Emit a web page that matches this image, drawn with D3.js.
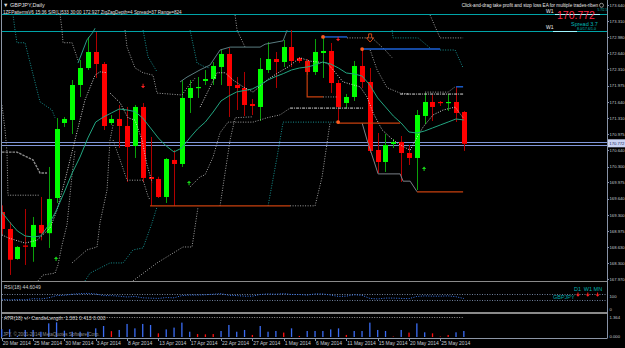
<!DOCTYPE html>
<html>
<head>
<meta charset="utf-8">
<script src="https://cdn.jsdelivr.net/npm/d3@7/dist/d3.min.js"></script>
<style>
  body { margin: 0; background: #000; }
  svg { display: block; font-family: "Liberation Sans", Arial, sans-serif; }
  .axis path, .axis line { stroke: #8792a6; shape-rendering: crispEdges; }
  .axis text { fill: #c4c8d0; font-size: 5px; }
  .yaxis text { font-size: 4.2px; }
</style>
</head>
<body>
<div id="chart"></div>
<script>
// ---- data ----
var tickBars = [0, 4, 8, 12, 16, 20, 24, 28, 32, 36, 40, 44, 48, 52, 56];
var tickLabels = ["20 Mar 2014", "25 Mar 2014", "30 Mar 2014", "3 Apr 2014", "8 Apr 2014",
  "13 Apr 2014", "17 Apr 2014", "22 Apr 2014", "27 Apr 2014", "1 May 2014", "6 May 2014",
  "11 May 2014", "15 May 2014", "20 May 2014", "25 May 2014"];
var priceTicks = [173.640, 173.310, 172.980, 172.640, 172.310, 171.975, 171.640, 171.310, 170.975,
  170.640, 170.300, 169.975, 169.640, 169.300, 168.975, 168.630, 168.300, 167.970];

var opens = [169.363, 169.012, 168.392, 168.670, 168.640, 169.095, 168.925, 169.652, 171.202, 171.264,
  171.987, 172.338, 172.669, 172.421, 171.202, 171.285, 171.140, 170.727, 171.533, 170.086,
  170.045, 169.673, 170.438, 170.355, 171.719, 171.925, 172.070, 172.111, 172.359, 172.628,
  171.987, 171.925, 171.595, 171.533, 172.297, 172.524, 172.462, 172.772, 172.545, 172.483,
  172.256, 172.648, 172.690, 172.028, 171.615, 171.739, 172.380, 172.049, 170.644, 170.396,
  170.768, 170.810, 170.582, 170.479, 171.347, 171.636, 171.636, 171.615, 171.636, 171.429];
var highs = [169.500, 169.156, 168.660, 169.425, 169.260, 169.673, 170.293, 171.305, 171.326, 172.090,
  172.504, 172.979, 173.082, 172.462, 171.367, 171.574, 171.533, 171.574, 171.615, 170.913,
  170.090, 170.479, 170.644, 172.090, 172.090, 172.152, 172.297, 172.462, 172.731, 172.752,
  172.152, 172.256, 171.698, 172.545, 172.876, 172.669, 172.917, 173.123, 172.566, 172.524,
  172.937, 172.979, 172.855, 172.090, 171.801, 172.483, 172.710, 172.338, 170.995, 170.975,
  170.871, 170.933, 170.747, 171.471, 171.822, 171.781, 171.657, 171.801, 171.946, 171.450];
var lows = [168.900, 168.062, 168.376, 168.268, 168.334, 168.777, 168.620, 169.549, 171.120, 170.975,
  171.739, 172.297, 172.132, 171.057, 171.160, 170.685, 169.983, 170.479, 169.983, 169.487,
  169.652, 169.549, 169.487, 170.293, 171.409, 171.719, 171.987, 171.987, 171.987, 171.326,
  171.471, 171.347, 171.367, 171.243, 172.235, 171.925, 172.359, 172.359, 172.442, 172.194,
  172.194, 172.132, 171.822, 171.223, 171.512, 171.657, 171.925, 170.582, 170.169, 170.190,
  170.685, 169.983, 170.334, 169.818, 171.181, 171.243, 171.553, 171.450, 171.223, 170.624];
var closes = [169.012, 168.376, 168.640, 168.650, 169.095, 168.925, 169.632, 171.078, 171.285, 171.987,
  172.338, 172.669, 172.421, 171.140, 171.285, 171.140, 170.706, 171.533, 170.066, 170.045,
  169.673, 170.458, 170.355, 171.719, 171.925, 171.946, 172.111, 172.380, 172.628, 171.966,
  171.925, 171.574, 171.553, 172.318, 172.524, 172.462, 172.772, 172.483, 172.483, 172.256,
  172.669, 172.690, 172.028, 171.533, 171.739, 172.380, 172.049, 170.624, 170.396, 170.747,
  170.810, 170.582, 170.479, 171.367, 171.636, 171.533, 171.615, 171.636, 171.409, 170.772];

var maValues = [169.363, 169.157, 168.971, 168.867, 168.847, 168.867, 169.095, 169.404, 169.776, 170.169,
  170.499, 170.892, 171.222, 171.326, 171.409, 171.491, 171.471, 171.440, 171.305, 171.099,
  170.892, 170.727, 170.603, 170.686, 170.892, 171.078, 171.222, 171.429, 171.657, 171.760,
  171.843, 171.874, 171.905, 171.987, 172.091, 172.163, 172.225, 172.297, 172.338, 172.359,
  172.400, 172.462, 172.421, 172.338, 172.235, 172.214, 172.173, 171.987, 171.719, 171.533,
  171.347, 171.202, 171.016, 170.995, 171.037, 171.099, 171.161, 171.222, 171.285, 171.264];

var rsiValues = [42, 40, 41, 40, 44, 43, 47, 55, 56, 60, 62, 63, 61, 55, 55, 53, 50, 52, 47, 46,
  45, 48, 47, 55, 57, 57, 58, 60, 62, 56, 55, 53, 53, 59, 61, 60, 62, 59, 59, 57,
  61, 61, 57, 52, 53, 58, 56, 45, 43, 46, 46, 45, 44, 52, 54, 53, 53, 54, 51, 44.6];
var rsiLevels = [60, 40];

var atrValues = [0.53, 0.53, 0.08, 0.48, 0.48, 0.36, 0.93, 1.00, 0.43, 0.36,
  0.36, 0.36, 0.59, 0.75, 0.40, 0.48, 0.89, 0.59, 0.89, 0.82,
  0.25, 0.52, 0.64, 0.98, 0.36, 0.20, 0.18, 0.20, 0.41, 0.82,
  0.36, 0.48, 0.14, 0.75, 0.36, 0.41, 0.30, 0.59, 0.07, 0.41,
  0.41, 0.41, 0.52, 0.59, 0.14, 0.41, 0.41, 0.98, 0.48, 0.41,
  0.03, 0.48, 0.30, 0.93, 0.32, 0.25, 0.03, 0.14, 0.32, 0.41];
var atrRedBars = [14, 20, 25, 26, 27, 32, 36, 38, 44, 50, 52, 55, 56, 57];
var atrLevel = 1.381;

var bidPrice = 170.772;
var weeklyLevels = [173.444, 173.113];

// indicator polylines: [bar, price]
var tealDotA = [[1.44,173.45],[1.70,173.12],[1.95,172.86],[2.98,172.86],[4.89,171.64],[6.42,171.47],[6.81,171.31]];
var grayDotA = [[7.45,173.45],[7.70,173.12],[7.83,172.86],[8.98,172.86],[9.74,172.50]];
var bandUpA = [[9.74,172.44],[10.89,172.92],[11.66,173.08],[11.92,173.16]];
var grayDotB = [[15.75,173.12],[16.00,172.77],[17.02,172.34],[18.05,172.24],[19.32,172.19],[19.83,171.82],[23.03,171.78],[23.66,171.93],[24.69,172.13]];
var tealDotB = [[18.05,173.12],[18.68,172.57],[19.83,172.26]];
var tealDotC = [[24.05,173.12],[24.94,172.44],[25.96,172.36],[26.60,172.34]];
var bandUpB = [[22.77,172.05],[23.66,172.15],[25.33,172.30],[26.60,172.40],[27.88,172.71],[29.16,172.77],[32.99,172.77],[33.63,172.83],[35.93,172.90],[36.44,173.12]];
var grayDotC = [[29.80,173.43],[30.05,173.12],[31.07,172.77]];
var whiteDotA = [[0.04,168.89],[0.80,168.83],[2.98,168.72],[4.51,168.78],[6.17,169.03],[7.06,169.40],[8.08,170.02],[9.36,170.85],[10.64,171.68],[11.92,172.19],[12.55,172.26],[13.45,172.24]];
var whiteDotB = [[13.83,171.82],[15.11,171.62],[16.13,171.31],[17.02,171.26],[17.92,170.85],[18.56,170.33],[19.20,169.98]];
var grayDotD = [[14.22,170.85],[15.11,170.44],[16.00,170.02],[18.05,170.02],[18.68,169.69],[18.94,169.61]];
var grayDotE = [[0.04,171.57],[0.42,171.06],[0.68,170.60],[0.80,169.71],[1.44,169.71],[4.89,169.71]];
var grayDashA = [[0.04,170.60],[1.95,170.60],[3.99,170.44],[4.89,170.17],[5.79,170.17]];
var grayDotF = [[4.64,167.94],[5.27,168.06],[6.81,168.10],[7.19,168.27],[7.70,168.68],[8.34,169.10],[8.98,170.13],[9.36,170.64]];
var grayDotG = [[8.98,168.31],[10.89,168.58],[12.17,168.64],[12.55,169.14],[13.45,169.82],[13.83,170.85],[14.22,171.16]];
var tealDotD = [[10.64,167.94],[11.28,168.10],[13.83,168.31],[15.49,168.31],[16.77,168.58],[18.05,168.62],[19.20,169.14],[19.83,169.47]];
var grayDotH = [[16.77,167.94],[19.83,168.31],[23.15,168.64],[24.30,168.64],[25.07,169.47]];
var grayDotI = [[24.05,169.88],[25.33,170.09],[25.96,170.13],[26.99,170.50],[27.88,171.00],[28.90,171.22],[32.09,171.22],[33.88,171.31],[35.54,171.37],[36.82,171.51]];
var grayDotJ = [[27.88,169.49],[28.52,170.17],[29.16,170.85],[29.80,171.31],[32.09,171.33]];
var tealDotE = [[34.01,169.49],[35.16,170.50],[35.93,171.22],[42.95,171.22]];
var grayDotK = [[36.82,169.49],[40.01,169.49],[40.91,170.09],[41.93,171.22]];
var trailDot = [[25.33,171.53],[26.22,171.82],[27.50,172.24],[28.52,172.24],[29.54,172.09],[30.82,171.95],[32.09,171.84],[33.88,172.09],[35.29,172.24],[36.56,172.36],[38.09,172.55],[39.37,172.48],[41.54,172.44],[42.31,172.30],[43.59,172.05],[44.87,171.99],[45.76,171.95],[46.65,171.74],[47.42,171.41],[48.57,171.06],[49.97,170.85],[50.87,170.75],[52.15,170.64],[53.04,170.91],[53.81,171.12],[55.08,171.37],[56.36,171.47],[57.89,171.53],[58.91,171.31]];
var grayDotL = [[44.10,172.96],[47.29,172.96],[48.95,172.71],[49.85,172.55]];
var grayDotM = [[47.04,172.71],[47.93,172.30],[49.21,171.93],[50.87,171.82],[52.15,171.80]];
var grayDotN = [[54.06,171.84],[57.00,171.84],[57.89,171.95]];
var grayDotO = [[54.70,173.43],[55.34,173.19],[55.98,172.96],[58.91,172.96]];
var grayDotP = [[41.03,171.74],[42.95,171.74]];
var tealDotF = [[49.85,173.12],[49.97,172.96],[53.17,172.96],[54.70,172.75]];
var tealDotG = [[55.98,172.71],[57.89,172.71],[58.91,172.34]];
var dashDotA = [[36.82,171.51],[46.14,171.51]];
var dashDotB = [[50.87,171.80],[58.91,171.80]];
var blueSegA = [[41.03,172.98],[44.10,172.98]];
var blueSegB = [[46.02,172.73],[55.98,172.73]];
var blueSegC = [[58.02,171.95],[58.91,171.95]];
var zigA = [[18.94,169.49],[36.82,169.49]];
var zigB = [[39.0,172.48],[39.0,171.74],[41.03,171.74]];
var zigC = [[42.95,171.20],[50.87,171.20]];
var zigD = [[53.04,169.78],[58.91,169.78]];
var bandLow = [[46.02,171.20],[46.65,170.85],[48.06,170.15],[50.87,170.15],[51.25,170.00],[52.15,170.00],[53.04,169.78]];
var pivotDots = [[41.03,172.98],[46.02,172.73],[42.95,171.22]];
var sellArrows = [[18.05,171.95],[42.95,172.92]];
var bigSellArrows = [[47.04,172.94]];
var buyArrows = [[6.94,168.41],[23.92,169.98],[53.93,170.27]];

// ---- drawing ----
var width = 625, height = 348;

var svg = d3.select("#chart")
  .append("svg")
  .attr("width", width)
  .attr("height", height)
  .style("background", "#000");

var xScale = d3.scaleLinear().domain([0, 59]).range([1.7, 463.8]);
var yScale = d3.scaleLinear().domain([167.970, 173.640]).range([279.4, 5]);
var rsiScale = d3.scaleLinear().domain([0, 100]).range([311, 283]);
var atrScale = d3.scaleLinear().domain([0, 1.364]).range([337, 317]);

svg.append("clipPath").attr("id", "mainclip")
  .append("rect").attr("x", 2).attr("y", 1).attr("width", 605).attr("height", 280);

var main = svg.append("g").attr("clip-path", "url(#mainclip)");

// weekly levels (cyan)
main.selectAll(".wk")
  .data(weeklyLevels)
  .enter().append("line")
  .attr("x1", 2).attr("x2", 607)
  .attr("y1", function(d) { return Math.round(yScale(d)) + 0.5; })
  .attr("y2", function(d) { return Math.round(yScale(d)) + 0.5; })
  .attr("stroke", "#00a4a8").attr("stroke-width", 1);
// brighter pieces near the labels
main.append("line").attr("x1", 555).attr("x2", 600)
  .attr("y1", Math.round(yScale(weeklyLevels[0])) + 0.5).attr("y2", Math.round(yScale(weeklyLevels[0])) + 0.5)
  .attr("stroke", "#9ef6ff");
main.append("line").attr("x1", 553).attr("x2", 577)
  .attr("y1", Math.round(yScale(weeklyLevels[1])) + 0.5).attr("y2", Math.round(yScale(weeklyLevels[1])) + 0.5)
  .attr("stroke", "#9ef6ff");

// bid line (double)
[-1.5, 1.5].forEach(function(off) {
  main.append("line")
    .attr("x1", 2).attr("x2", 607)
    .attr("y1", Math.round(yScale(bidPrice) + off) + 0.5)
    .attr("y2", Math.round(yScale(bidPrice) + off) + 0.5)
    .attr("stroke", "#8096d8");
});

// candles
var bars = d3.range(opens.length);
function cx(i) { return Math.round(xScale(i)); }

main.selectAll(".wick")
  .data(bars)
  .enter().append("line")
  .attr("class", "wick")
  .attr("x1", function(i) { return cx(i) + 0.5; })
  .attr("x2", function(i) { return cx(i) + 0.5; })
  .attr("y1", function(i) { return yScale(highs[i]); })
  .attr("y2", function(i) { return yScale(lows[i]); })
  .attr("stroke", function(i) { return closes[i] >= opens[i] ? "#0aa00a" : "#b00000"; });

main.selectAll(".body")
  .data(bars)
  .enter().append("rect")
  .attr("class", "body")
  .attr("x", function(i) { return cx(i) - 2; })
  .attr("width", 5)
  .attr("y", function(i) { return yScale(Math.max(opens[i], closes[i])); })
  .attr("height", function(i) {
    return Math.max(1.2, Math.abs(yScale(opens[i]) - yScale(closes[i])));
  })
  .attr("fill", function(i) { return closes[i] >= opens[i] ? "#00ff00" : "#ff0000"; });

// indicator lines
var line = d3.line()
  .x(function(d) { return xScale(d[0]); })
  .y(function(d) { return yScale(d[1]); });

var styled = [
  [tealDotA, "#179090", "1,1.5", 1],
  [tealDotB, "#179090", "1,1.5", 1],
  [tealDotC, "#179090", "1,1.5", 1],
  [tealDotD, "#179090", "1,1.5", 1],
  [tealDotE, "#179090", "1,1.5", 1],
  [tealDotF, "#179090", "1,1.5", 1],
  [tealDotG, "#179090", "1,1.5", 1],
  [grayDotA, "#a0a0a0", "1,1.5", 1],
  [grayDotB, "#a0a0a0", "1,1.5", 1],
  [grayDotC, "#a0a0a0", "1,1.5", 1],
  [grayDotD, "#a0a0a0", "1,1.5", 1],
  [grayDotE, "#a0a0a0", "1,1.5", 1],
  [grayDotF, "#a0a0a0", "1,1.5", 1],
  [grayDotG, "#a0a0a0", "1,1.5", 1],
  [grayDotH, "#a0a0a0", "1,1.5", 1],
  [grayDotI, "#a0a0a0", "1,1.5", 1],
  [grayDotJ, "#a0a0a0", "1,1.5", 1],
  [grayDotK, "#a0a0a0", "1,1.5", 1],
  [grayDotL, "#a0a0a0", "1,1.5", 1],
  [grayDotM, "#a0a0a0", "1,1.5", 1],
  [grayDotN, "#a0a0a0", "1,1.5", 1],
  [grayDotO, "#a0a0a0", "1,1.5", 1],
  [grayDotP, "#a0a0a0", "1,1.5", 1],
  [whiteDotA, "#d0d0d0", "1,1.5", 1],
  [whiteDotB, "#d0d0d0", "1,1.5", 1],
  [trailDot, "#d0d0d0", "1,1.5", 1],
  [grayDashA, "#8c8c8c", "2.5,1", 1.4],
  [dashDotA, "#d8d8d8", "3,1,1,1", 1],
  [dashDotB, "#d8d8d8", "3,1,1,1", 1],
  [bandUpA, "#2a9a86", null, 1],
  [bandUpB, "#5a7c80", null, 1],
  [bandLow, "#7a8088", null, 1],
  [blueSegA, "#1c62d8", null, 1.4],
  [blueSegB, "#1c62d8", null, 1.4],
  [blueSegC, "#1c62d8", null, 1.4],
  [zigA, "#c8400e", null, 1.2],
  [zigB, "#c8400e", null, 1.2],
  [zigC, "#c8400e", null, 1.2],
  [zigD, "#c8400e", null, 1.2]
];

styled.forEach(function(s) {
  main.append("path")
    .datum(s[0])
    .attr("d", line)
    .attr("fill", "none")
    .attr("stroke", s[1])
    .attr("stroke-width", s[3])
    .attr("stroke-dasharray", s[2]);
});

// moving average
main.append("path")
  .datum(maValues)
  .attr("d", d3.line()
    .x(function(d, i) { return xScale(i); })
    .y(function(d) { return yScale(d); }))
  .attr("fill", "none")
  .attr("stroke", "#22a580")
  .attr("stroke-width", 1);

// pivot dots
main.selectAll(".pivot")
  .data(pivotDots)
  .enter().append("circle")
  .attr("cx", function(d) { return xScale(d[0]); })
  .attr("cy", function(d) { return yScale(d[1]); })
  .attr("r", 1.9)
  .attr("fill", "#ff5c1e");

// arrows
main.selectAll(".sell")
  .data(sellArrows)
  .enter().append("path")
  .attr("d", function(d) {
    var x = xScale(d[0]), y = yScale(d[1]);
    return "M" + (x - 0.5) + "," + (y - 3) + "h1v2.2h1.6l-2.1,2.3l-2.1,-2.3h1.6z";
  })
  .attr("fill", "#ff2020");

main.selectAll(".bigsell")
  .data(bigSellArrows)
  .enter().append("path")
  .attr("d", function(d) {
    var x = xScale(d[0]), y = yScale(d[1]);
    return "M" + (x - 1.5) + "," + (y - 5) + "h3v4h2.2l-3.7,4.2l-3.7,-4.2h2.2z";
  })
  .attr("fill", "none")
  .attr("stroke", "#e0501a")
  .attr("stroke-width", 0.9);

main.selectAll(".buy")
  .data(buyArrows)
  .enter().append("path")
  .attr("d", function(d) {
    var x = xScale(d[0]), y = yScale(d[1]);
    return "M" + (x - 0.5) + "," + (y + 3) + "h1v-2.2h1.6l-2.1,-2.3l-2.1,2.3h1.6z";
  })
  .attr("fill", "#18d818");

// ---- panels frame ----
svg.append("line").attr("x1", 2).attr("x2", 607).attr("y1", 281.5).attr("y2", 281.5)
  .attr("stroke", "#8a8a8a");
svg.append("line").attr("x1", 2).attr("x2", 607).attr("y1", 313).attr("y2", 313)
  .attr("stroke", "#8a8a8a").attr("stroke-width", 2);
svg.append("line").attr("x1", 1.5).attr("x2", 1.5).attr("y1", 0).attr("y2", 338.5)
  .attr("stroke", "#8c96a6");
svg.append("line").attr("x1", 1.5).attr("x2", 607.5).attr("y1", 338.5).attr("y2", 338.5)
  .attr("stroke", "#8c96a6");

// price axis
var yAxis = svg.append("g")
  .attr("class", "axis yaxis")
  .attr("transform", "translate(607.5,0)")
  .call(d3.axisRight(yScale).tickValues(priceTicks).tickSize(1.5).tickPadding(0.5)
    .tickFormat(d3.format(".3f")));
yAxis.select(".domain").attr("d", "M0,0V338");

function sideLabel(txt, y) {
  svg.append("text")
    .attr("x", 609.5).attr("y", y)
    .attr("font-size", "4.2px").attr("fill", "#c4c8d0")
    .text(txt);
}

// bid price box
svg.append("rect")
  .attr("x", 608).attr("y", yScale(bidPrice) - 4.5)
  .attr("width", 17).attr("height", 8)
  .attr("fill", "#c9d2f2");
svg.append("text")
  .attr("x", 609.3).attr("y", yScale(bidPrice) + 1.6)
  .attr("font-size", "4.2px").attr("fill", "#1c2a60")
  .text(d3.format(".3f")(bidPrice));

// date axis
var xAxis = svg.append("g")
  .attr("class", "axis")
  .attr("transform", "translate(0,338.5)")
  .call(d3.axisBottom(xScale).tickValues(tickBars).tickSize(2.5)
    .tickFormat(function(d, i) { return tickLabels[i]; }));
xAxis.select(".domain").remove();
xAxis.selectAll("text")
  .attr("text-anchor", "start")
  .attr("x", 0.5)
  .attr("y", 3)
  .attr("dy", "0.71em");

// ---- RSI panel ----
svg.selectAll(".rsilev")
  .data(rsiLevels)
  .enter().append("line")
  .attr("x1", 2).attr("x2", 607)
  .attr("y1", function(d) { return Math.round(rsiScale(d)) + 0.5; })
  .attr("y2", function(d) { return Math.round(rsiScale(d)) + 0.5; })
  .attr("stroke", "#6f7f9a")
  .attr("stroke-dasharray", "1,1.5");

svg.append("path")
  .datum(rsiValues)
  .attr("d", d3.line()
    .x(function(d, i) { return xScale(i); })
    .y(function(d) { return rsiScale(d); }))
  .attr("fill", "none")
  .attr("stroke", "#3b78ee")
  .attr("stroke-dasharray", "1,1.5");

svg.append("text").attr("x", 4).attr("y", 289).attr("font-size", "5px").attr("fill", "#d0d0d0")
  .text("RSI(18) 44.6049");
sideLabel("100", 297.5);
sideLabel("0", 311);

var tfLabels = ["D1", "W1", "MN"];
svg.selectAll(".tf")
  .data(tfLabels)
  .enter().append("text")
  .attr("x", function(d, i) { return 574 + i * 9.8; })
  .attr("y", 290.5)
  .attr("font-size", "5.5px")
  .attr("fill", "#00b4b4")
  .text(function(d) { return d; });
svg.selectAll(".tfarrow")
  .data(tfLabels)
  .enter().append("path")
  .attr("d", function(d, i) {
    var x = 578 + i * 9.8, y = 295;
    return "M" + (x - 0.5) + "," + (y - 2.5) + "h1v2h1.6l-2.1,2.3l-2.1,-2.3h1.6z";
  })
  .attr("fill", "#ff2020");
svg.append("text").attr("x", 553).attr("y", 298.5).attr("font-size", "5.5px").attr("fill", "#00a8a8")
  .text("GBPJPY");

// ---- ATR panel ----
svg.append("line")
  .attr("x1", xScale(0)).attr("x2", xScale(59))
  .attr("y1", Math.round(atrScale(atrLevel)) + 0.5).attr("y2", Math.round(atrScale(atrLevel)) + 0.5)
  .attr("stroke", "#9a9a9a").attr("stroke-dasharray", "1,1.5");

svg.selectAll(".atr")
  .data(atrValues)
  .enter().append("rect")
  .attr("x", function(d, i) { return xScale(i) - 0.6; })
  .attr("width", 1.3)
  .attr("y", function(d) { return atrScale(d); })
  .attr("height", function(d) { return atrScale(0) - atrScale(d); })
  .attr("fill", function(d, i) { return atrRedBars.indexOf(i) >= 0 ? "#ff1010" : "#3a6cf4"; });

svg.append("text").attr("x", 4).attr("y", 320).attr("font-size", "5px").attr("fill", "#d0d0d0")
  .text("ATR(18) +/- CandleLength: 1.381 0.413 0.000");
svg.append("text").attr("x", 3).attr("y", 335.5).attr("font-size", "4.6px").attr("fill", "#8c8c8c")
  .text("JPY, \u00a9 2001-2014, MetaQuotes Software Corp.");
sideLabel("1.364", 319);
sideLabel("0.000", 338);

// ---- header texts ----
svg.append("text").attr("x", 3).attr("y", 7).attr("font-size", "5.5px").attr("fill", "#e0e0e0")
  .text("\u25bc GBPJPY,Daily");
svg.append("text").attr("x", 3).attr("y", 13.5).attr("font-size", "4.6px").attr("fill", "#e0e0e0")
  .text("1ZFPatternsV6   15:36   S/R(L)533   30:00   172.927   ZigZagDepth=4   Spread=37   Range=824");
svg.append("text").attr("x", 598).attr("y", 7).attr("font-size", "4.6px").attr("fill", "#e8e8e8")
  .attr("text-anchor", "end")
  .text("Click-and-drag take profit and stop loss EA for multiple trades-riben");
svg.append("circle").attr("cx", 601.5).attr("cy", 5.3).attr("r", 2).attr("fill", "none")
  .attr("stroke", "#e8e8e8").attr("stroke-width", 0.6);

svg.append("text").attr("x", 546).attr("y", 13).attr("font-size", "5px").attr("fill", "#f0f0f0").text("W1");
svg.append("text").attr("x", 546).attr("y", 28.5).attr("font-size", "5px").attr("fill", "#f0f0f0").text("W1");
svg.append("text").attr("x", 557).attr("y", 19).attr("font-size", "10.5px").attr("fill", "#ff2848")
  .text(d3.format(".3f")(bidPrice));
svg.append("text").attr("x", 597.5).attr("y", 10.5).attr("font-size", "3.2px").attr("fill", "#00b8b8")
  .text("5.7/2.5");
svg.append("text").attr("x", 571).attr("y", 26).attr("font-size", "5.5px").attr("fill", "#00b8b8")
  .text("Spread 3.7");
svg.append("text").attr("x", 577).attr("y", 29.5).attr("font-size", "3.6px").attr("fill", "#00b8b8")
  .text("8.0/17.6/1.0");
</script>
</body>
</html>
